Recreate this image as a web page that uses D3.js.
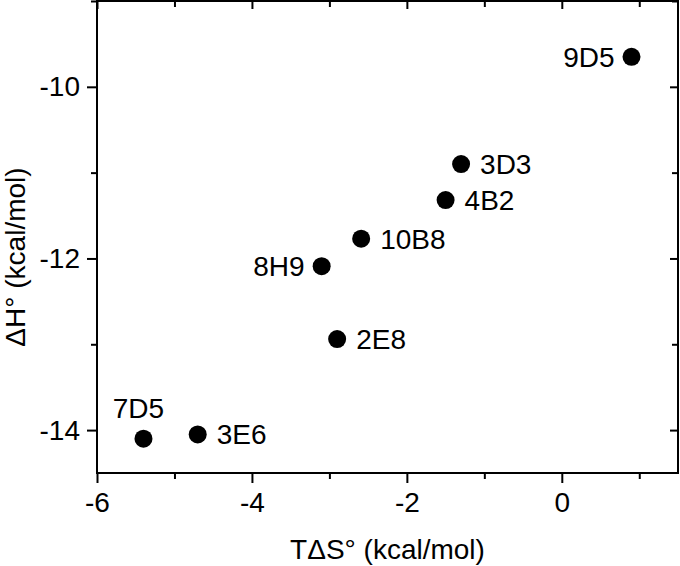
<!DOCTYPE html>
<html>
<head>
<meta charset="utf-8">
<script src="https://cdn.jsdelivr.net/npm/d3@7"></script>
<style>
  html, body { margin: 0; padding: 0; background: #fff; }
  svg { display: block; font-family: "Liberation Sans", Arial, sans-serif; }
</style>
</head>
<body>
<svg id="chart" width="680" height="566"></svg>
<script>
// ---- Data ----
const names = ["9D5", "3D3", "4B2", "10B8", "8H9", "2E8", "7D5", "3E6"];
const tdsValues = [0.90, -1.30, -1.50, -2.59, -3.10, -2.90, -5.40, -4.70];
const dhValues = [-9.65, -10.90, -11.32, -11.77, -12.09, -12.94, -14.10, -14.05];
const labelSide = ["left", "right", "right", "right", "left", "right", "above", "right"];
const xTickValues = [-6, -4, -2, 0];
const xMinorTicks = [-5, -3, -1, 1];
const yTickValues = [-14, -12, -10];
const yMinorTicks = [-13, -11, -9];
const xDomain = [-6, 1.5];
const yDomain = [-14.5, -9];

// ---- Layout ----
const m = { left: 97, right: 2, top: 1, bottom: 93 };
const W = 680, H = 566;
const iw = W - m.left - m.right, ih = H - m.top - m.bottom;
const FS = 28;
const fmt = d => String(d); // plain hyphen-minus like the reference

const svg = d3.select("#chart");
const g = svg.append("g").attr("transform", `translate(${m.left},${m.top})`);

const x = d3.scaleLinear().domain(xDomain).range([0, iw]);
const y = d3.scaleLinear().domain(yDomain).range([ih, 0]);

function styleAxis(sel, showText) {
  sel.select(".domain").remove();
  sel.selectAll(".tick line").attr("stroke", "#000").attr("stroke-width", 2);
  sel.selectAll(".tick text").attr("fill", "#000").style("font-size", FS + "px");
  if (!showText) sel.selectAll(".tick text").remove();
}

// bottom axis (outward ticks)
g.append("g").attr("transform", `translate(0,${ih})`)
  .call(d3.axisBottom(x).tickValues(xTickValues).tickSize(10).tickPadding(9).tickFormat(fmt))
  .call(s => styleAxis(s, true));
g.append("g").attr("transform", `translate(0,${ih})`)
  .call(d3.axisBottom(x).tickValues(xMinorTicks).tickSize(6).tickFormat(""))
  .call(s => styleAxis(s, false));
// left axis
g.append("g")
  .call(d3.axisLeft(y).tickValues(yTickValues).tickSize(10).tickPadding(7).tickFormat(fmt))
  .call(s => styleAxis(s, true));
g.append("g")
  .call(d3.axisLeft(y).tickValues(yMinorTicks).tickSize(6).tickFormat(""))
  .call(s => styleAxis(s, false));
// top axis (inward ticks)
g.append("g")
  .call(d3.axisTop(x).tickValues(xTickValues).tickSize(-8).tickFormat(""))
  .call(s => styleAxis(s, false));
g.append("g")
  .call(d3.axisTop(x).tickValues(xMinorTicks).tickSize(-6).tickFormat(""))
  .call(s => styleAxis(s, false));
// right axis (inward ticks)
g.append("g").attr("transform", `translate(${iw},0)`)
  .call(d3.axisRight(y).tickValues(yTickValues).tickSize(-8).tickFormat(""))
  .call(s => styleAxis(s, false));
g.append("g").attr("transform", `translate(${iw},0)`)
  .call(d3.axisRight(y).tickValues(yMinorTicks).tickSize(-6).tickFormat(""))
  .call(s => styleAxis(s, false));

// frame
g.append("rect").attr("x", 0).attr("y", 0).attr("width", iw).attr("height", ih)
  .attr("fill", "none").attr("stroke", "#000").attr("stroke-width", 2);

// points
const data = names.map((n, i) => ({ name: n, x: tdsValues[i], y: dhValues[i], side: labelSide[i] }));
g.selectAll("circle.pt").data(data).join("circle")
  .attr("class", "pt")
  .attr("cx", d => x(d.x)).attr("cy", d => y(d.y)).attr("r", 9).attr("fill", "#000");

g.selectAll("text.lbl").data(data).join("text")
  .attr("class", "lbl")
  .attr("x", d => d.side === "left" ? x(d.x) - 17 : d.side === "right" ? x(d.x) + 19 : x(d.x) - 5)
  .attr("y", d => d.side === "above" ? y(d.y) - 21 : y(d.y) + 10)
  .attr("text-anchor", d => d.side === "left" ? "end" : d.side === "right" ? "start" : "middle")
  .style("font-size", FS + "px").attr("fill", "#000")
  .text(d => d.name);

// axis titles
svg.append("text").attr("x", m.left + iw / 2).attr("y", 559)
  .attr("text-anchor", "middle").style("font-size", FS + "px").attr("fill", "#000")
  .text("TΔS° (kcal/mol)");
svg.append("text").attr("transform", "translate(25,257) rotate(-90)")
  .attr("text-anchor", "middle").style("font-size", FS + "px").attr("fill", "#000")
  .text("ΔH° (kcal/mol)");
</script>
</body>
</html>
